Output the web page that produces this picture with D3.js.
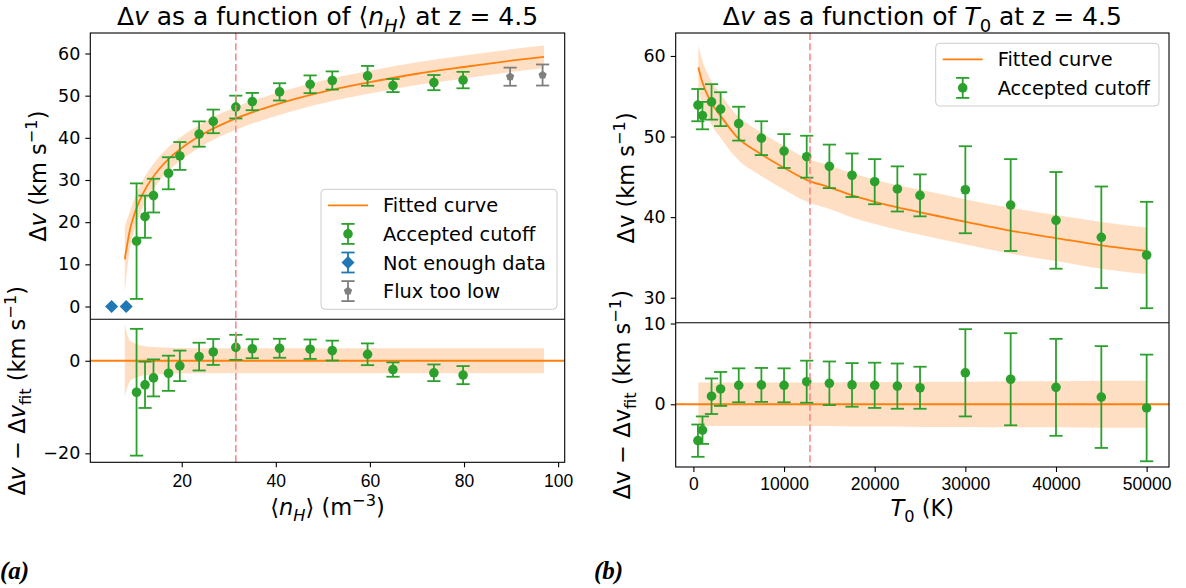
<!DOCTYPE html>
<html>
<head>
<meta charset="utf-8">
<script src="https://cdn.jsdelivr.net/npm/d3@7"></script>
<style>
body { margin: 0; background: #fff; }
svg { font-family: "DejaVu Sans", sans-serif; }
.tick text { font-size: 17.5px; fill: #000; }
.tick line { stroke: #000; stroke-width: 1.1; }
</style>
</head>
<body>
<div id="chart"></div>
<script>
// ---- panel (a): dv against <n_H> ----
var nhAccepted = [10.4, 12.2, 14.0, 17.2, 19.6, 23.7, 26.7, 31.5, 35.0, 40.8, 47.3, 52.0, 59.5, 64.9, 73.6, 79.8]
var dvAccepted = [15.5, 21.3, 26.3, 31.6, 35.7, 40.9, 43.9, 47.3, 48.6, 50.9, 52.7, 53.6, 54.7, 52.4, 53.1, 53.7]
var dvAcceptedErr = [13.7, 5.0, 4.0, 3.8, 3.3, 3.0, 2.8, 2.7, 2.05, 2.05, 2.1, 2.15, 2.35, 1.55, 1.8, 1.95]
var resAccepted = [-6.8, -5.2, -3.7, -2.7, -1.1, 0.9, 1.9, 2.9, 2.6, 2.7, 2.5, 2.2, 1.4, -1.9, -2.6, -3.1]

var nhNoData = [5.1, 8.2]
var dvNoData = [0, 0]

var nhLowFlux = [89.8, 96.7]
var dvLowFlux = [54.5, 54.9]
var dvLowFluxErr = [2.15, 2.5]

var nhFit = [7.9, 9, 10, 11, 12.5, 15, 17.5, 20, 25, 31.5, 40, 50, 60, 70, 80, 90, 97]
var dvFit = [11.2, 18.2, 22.1, 25.0, 28.3, 32.3, 35.3, 37.6, 41.2, 44.6, 47.9, 50.9, 53.2, 55.2, 56.8, 58.3, 59.2]
var dvFitBand = [7.8, 4.4, 3.8, 3.4, 3.1, 2.9, 2.8, 2.75, 2.7, 2.7, 2.7, 2.7, 2.7, 2.7, 2.7, 2.7, 2.7]
var nhCut = 31.5

var nhTicks = [20, 40, 60, 80, 100]
var dvTicksA = [0, 10, 20, 30, 40, 50, 60]
var resTicksA = [-20, 0]

// ---- panel (b): dv against T0 ----
var t0Accepted = [500, 1000, 2000, 3000, 5000, 7500, 10000, 12500, 15000, 17500, 20000, 22500, 25000, 30000, 35000, 40000, 45000, 50000]
var dvAcceptedB = [53.9, 52.6, 54.3, 53.4, 51.6, 49.8, 48.2, 47.5, 46.3, 45.2, 44.4, 43.5, 42.7, 43.4, 41.5, 39.6, 37.5, 35.3]
var dvAcceptedErrB = [2.0, 1.7, 2.2, 2.1, 2.1, 2.1, 2.1, 2.6, 2.7, 2.7, 2.8, 2.8, 2.6, 5.4, 5.7, 6.0, 6.3, 6.6]
var resAcceptedB = [-4.5, -3.2, 1.0, 1.9, 2.35, 2.4, 2.35, 2.8, 2.6, 2.4, 2.35, 2.25, 2.05, 3.9, 3.1, 2.1, 0.9, -0.45]

var t0Fit = [540, 1000, 1830, 3040, 4770, 7350, 10030, 12530, 15030, 17530, 20030, 22530, 25030, 30040, 35040, 40000, 45000, 50000]
var dvFitB = [58.6, 56.7, 54.5, 52.5, 50.0, 47.9, 46.1, 44.6, 43.7, 42.7, 41.9, 41.2, 40.6, 39.4, 38.3, 37.4, 36.5, 35.8]
var dvFitBandB = [2.7, 2.7, 2.7, 2.7, 2.7, 2.7, 2.7, 2.7, 2.7, 2.75, 2.75, 2.75, 2.8, 2.8, 2.85, 2.85, 2.9, 2.9]
var t0Cut = 12860

var t0Ticks = [0, 10000, 20000, 30000, 40000, 50000]
var dvTicksB = [30, 40, 50, 60]
var resTicksB = [0, 10]

var orange = '#ff7f0e', green = '#2ca02c', blue = '#1f77b4', grey = '#7f7f7f'
var labelSize = 22.5, titleSize = 25, legendSize = 19.4

var svg = d3.select('#chart').append('svg')
    .attr('width', 1186)
    .attr('height', 588)

// pentagon marker, like matplotlib 'p'
var symbolPentagon = {
    draw: function (ctx, size) {
        var r = Math.sqrt(size / 2.378)
        for (var i = 0; i < 5; i++) {
            var a = -Math.PI / 2 + i * 2 * Math.PI / 5
            if (i == 0) ctx.moveTo(r * Math.cos(a), r * Math.sin(a))
            else ctx.lineTo(r * Math.cos(a), r * Math.sin(a))
        }
        ctx.closePath()
    }
}

function errorbars(g, xs, ys, errs, x, y, color) {
    var cap = 6.6
    var idx = d3.range(xs.length)
    var bars = g.append('g').attr('stroke', color).attr('stroke-width', 1.8)
    bars.selectAll('.eb').data(idx).join('line')
        .attr('x1', i => x(xs[i])).attr('x2', i => x(xs[i]))
        .attr('y1', i => y(ys[i] - errs[i])).attr('y2', i => y(ys[i] + errs[i]))
    bars.selectAll('.cl').data(idx).join('line')
        .attr('x1', i => x(xs[i]) - cap).attr('x2', i => x(xs[i]) + cap)
        .attr('y1', i => y(ys[i] - errs[i])).attr('y2', i => y(ys[i] - errs[i]))
    bars.selectAll('.ch').data(idx).join('line')
        .attr('x1', i => x(xs[i]) - cap).attr('x2', i => x(xs[i]) + cap)
        .attr('y1', i => y(ys[i] + errs[i])).attr('y2', i => y(ys[i] + errs[i]))
    g.append('g').selectAll('circle').data(idx).join('circle')
        .attr('cx', i => x(xs[i])).attr('cy', i => y(ys[i]))
        .attr('r', 4.8).attr('fill', color)
}

function band(g, xs, ys, half, x, y, resid) {
    var pts = xs.map((v, i) => ({x: v, y: resid ? 0 : ys[i], h: half[i]}))
    var area = d3.area().x(d => x(d.x)).y0(d => y(d.y - d.h)).y1(d => y(d.y + d.h))
        .curve(d3.curveMonotoneX)
    g.append('path').datum(pts).attr('d', area).attr('fill', orange).attr('fill-opacity', 0.25)
}

function fitLine(g, xs, ys, x, y) {
    var line = d3.line().x((d, i) => x(xs[i])).y(d => y(d)).curve(d3.curveMonotoneX)
    g.append('path').datum(ys).attr('d', line)
        .attr('fill', 'none').attr('stroke', orange).attr('stroke-width', 1.8)
}

function yAxis(g, y, x0, ticks) {
    g.append('g').attr('transform', 'translate(' + x0 + ',0)')
        .call(d3.axisLeft(y).tickValues(ticks).tickSize(5).tickPadding(5).tickFormat(d3.format('d')))
        .call(a => a.select('.domain').remove())
        .selectAll('text').attr('font-family', 'DejaVu Sans')
}

function frame(g, p) {
    g.append('rect').attr('x', p.x0).attr('y', p.top)
        .attr('width', p.x1 - p.x0).attr('height', p.bottom - p.top)
        .attr('fill', 'none').attr('stroke', '#000').attr('stroke-width', 1.1)
    g.append('line').attr('x1', p.x0).attr('x2', p.x1).attr('y1', p.mid).attr('y2', p.mid)
        .attr('stroke', '#000').attr('stroke-width', 1.1)
}

function cutLine(g, px, p) {
    g.append('line').attr('x1', px).attr('x2', px).attr('y1', p.top).attr('y2', p.bottom)
        .attr('stroke', '#ff8080').attr('stroke-width', 1.5).attr('stroke-dasharray', '7,3.3')
}

// rich text helper: parts = [[text, style]] ; style: i = italic, sub, sup
function richText(t, parts, size) {
    var shift = 0
    parts.forEach(function (p) {
        var s = t.append('tspan').text(p[0])
        var st = p[1] || ''
        if (st.indexOf('i') >= 0) s.attr('font-style', 'italic')
        var target = 0
        if (st.indexOf('sub') >= 0) { target = 0.28 * size; s.attr('font-size', '0.72em') }
        if (st.indexOf('sup') >= 0) { target = -0.4 * size; s.attr('font-size', '0.72em') }
        if (target != shift) { s.attr('dy', target - shift); shift = target }
    })
}

function yLabel(g, x, y, parts) {
    var t = g.append('text').attr('transform', 'translate(' + x + ',' + y + ') rotate(-90)')
        .attr('text-anchor', 'middle').attr('font-size', labelSize)
    richText(t, parts, labelSize)
}

function legendHandle(g, cx, cy, color, kind) {
    var cap = 6.6
    g.append('line').attr('x1', cx).attr('x2', cx).attr('y1', cy - 10).attr('y2', cy + 10)
        .attr('stroke', color).attr('stroke-width', 1.8)
    g.append('line').attr('x1', cx - cap).attr('x2', cx + cap).attr('y1', cy - 10).attr('y2', cy - 10)
        .attr('stroke', color).attr('stroke-width', 1.8)
    g.append('line').attr('x1', cx - cap).attr('x2', cx + cap).attr('y1', cy + 10).attr('y2', cy + 10)
        .attr('stroke', color).attr('stroke-width', 1.8)
    if (kind == 'circle') g.append('circle').attr('cx', cx).attr('cy', cy).attr('r', 4.8).attr('fill', color)
    if (kind == 'diamond') g.append('path').attr('d', d3.symbol(d3.symbolSquare, 85)())
        .attr('transform', 'translate(' + cx + ',' + cy + ') rotate(45)').attr('fill', color)
    if (kind == 'pentagon') g.append('path').attr('d', d3.symbol(symbolPentagon, 45)())
        .attr('transform', 'translate(' + cx + ',' + cy + ')').attr('fill', color)
}

function legend(g, box, rows) {
    g.append('rect').attr('x', box.x).attr('y', box.y).attr('width', box.w).attr('height', box.h)
        .attr('rx', 4).attr('fill', '#fff').attr('fill-opacity', 0.8)
        .attr('stroke', '#cccccc').attr('stroke-width', 1)
    rows.forEach(function (r, i) {
        var cy = box.y + 16 + i * 28.6
        if (r.kind == 'line') {
            g.append('line').attr('x1', box.x + 7).attr('x2', box.x + 47).attr('y1', cy).attr('y2', cy)
                .attr('stroke', orange).attr('stroke-width', 1.8)
        } else {
            legendHandle(g, box.x + 27, cy, r.color, r.kind)
        }
        g.append('text').attr('x', box.x + 62).attr('y', cy + 7).attr('font-size', legendSize).text(r.label)
    })
}

// ================= panel (a) =================
var pA = {x0: 90.3, x1: 564.7, top: 33, mid: 319.3, bottom: 462.3}
var xA = d3.scaleLinear().domain([0.57, 101.4]).range([pA.x0, pA.x1])
var yA = d3.scaleLinear().domain([-3.03, 64.86]).range([pA.mid, pA.top])
var rA = d3.scaleLinear().domain([-21.94, 8.96]).range([pA.bottom, pA.mid])

var gA = svg.append('g')
band(gA, nhFit, dvFit, dvFitBand, xA, yA, false)
fitLine(gA, nhFit, dvFit, xA, yA)
errorbars(gA, nhAccepted, dvAccepted, dvAcceptedErr, xA, yA, green)
gA.append('g').selectAll('path').data(nhNoData).join('path')
    .attr('d', d3.symbol(d3.symbolSquare, 85)())
    .attr('transform', (d, i) => 'translate(' + xA(d) + ',' + yA(dvNoData[i]) + ') rotate(45)')
    .attr('fill', blue)
var gLow = gA.append('g')
gLow.selectAll('.lf').data(d3.range(nhLowFlux.length)).join('line')
    .attr('x1', i => xA(nhLowFlux[i])).attr('x2', i => xA(nhLowFlux[i]))
    .attr('y1', i => yA(dvLowFlux[i] - dvLowFluxErr[i])).attr('y2', i => yA(dvLowFlux[i] + dvLowFluxErr[i]))
    .attr('stroke', grey).attr('stroke-width', 1.8)
;[-1, 1].forEach(function (sgn) {
    gLow.selectAll('.lfc' + sgn).data(d3.range(nhLowFlux.length)).join('line')
        .attr('x1', i => xA(nhLowFlux[i]) - 6.6).attr('x2', i => xA(nhLowFlux[i]) + 6.6)
        .attr('y1', i => yA(dvLowFlux[i] + sgn * dvLowFluxErr[i])).attr('y2', i => yA(dvLowFlux[i] + sgn * dvLowFluxErr[i]))
        .attr('stroke', grey).attr('stroke-width', 1.8)
})
gLow.selectAll('path').data(nhLowFlux).join('path')
    .attr('d', d3.symbol(symbolPentagon, 45)())
    .attr('transform', (d, i) => 'translate(' + xA(d) + ',' + yA(dvLowFlux[i]) + ')')
    .attr('fill', grey)

// residuals (a)
band(gA, nhFit, dvFit, dvFitBand, xA, rA, true)
gA.append('line').attr('x1', pA.x0).attr('x2', pA.x1).attr('y1', rA(0)).attr('y2', rA(0))
    .attr('stroke', orange).attr('stroke-width', 2)
errorbars(gA, nhAccepted, resAccepted, dvAcceptedErr, xA, rA, green)

cutLine(gA, xA(nhCut), pA)
frame(gA, pA)
yAxis(gA, yA, pA.x0, dvTicksA)
yAxis(gA, rA, pA.x0, resTicksA)
gA.append('g').attr('transform', 'translate(0,' + pA.bottom + ')')
    .call(d3.axisBottom(xA).tickValues(nhTicks).tickSize(5).tickPadding(7))
    .call(a => a.select('.domain').remove())

legend(gA, {x: 321, y: 189.3, w: 236, h: 120}, [
    {kind: 'line', label: 'Fitted curve'},
    {kind: 'circle', color: green, label: 'Accepted cutoff'},
    {kind: 'diamond', color: blue, label: 'Not enough data'},
    {kind: 'pentagon', color: grey, label: 'Flux too low'}
])

var tA = gA.append('text').attr('x', (pA.x0 + pA.x1) / 2).attr('y', 25)
    .attr('text-anchor', 'middle').attr('font-size', titleSize)
richText(tA, [['Δ'], ['v', 'i'], [' as a function of ⟨'], ['n', 'i'], ['H', 'i sub'], ['⟩ at z = 4.5']], titleSize)

var xlA = gA.append('text').attr('x', (pA.x0 + pA.x1) / 2).attr('y', 515)
    .attr('text-anchor', 'middle').attr('font-size', labelSize)
richText(xlA, [['⟨'], ['n', 'i'], ['H', 'i sub'], ['⟩ (m'], ['−3', 'sup'], [')']], labelSize)

yLabel(gA, 46, (pA.top + pA.mid) / 2, [['Δ'], ['v', 'i'], [' (km s'], ['−1', 'sup'], [')']])
yLabel(gA, 25, (pA.mid + pA.bottom) / 2, [['Δ'], ['v', 'i'], [' − Δ'], ['v', 'i'], ['fit', 'sub'], [' (km s'], ['−1', 'sup'], [')']])

// ================= panel (b) =================
var pB = {x0: 675.7, x1: 1169, top: 33, mid: 322.7, bottom: 467}
var xB = d3.scaleLinear().domain([-1953, 52466]).range([pB.x0, pB.x1])
var yB = d3.scaleLinear().domain([26.9, 62.85]).range([pB.mid, pB.top])
var rB = d3.scaleLinear().domain([-7.76, 10.1]).range([pB.bottom, pB.mid])

var gB = svg.append('g')
band(gB, t0Fit, dvFitB, dvFitBandB, xB, yB, false)
fitLine(gB, t0Fit, dvFitB, xB, yB)
errorbars(gB, t0Accepted, dvAcceptedB, dvAcceptedErrB, xB, yB, green)

band(gB, t0Fit, dvFitB, dvFitBandB, xB, rB, true)
gB.append('line').attr('x1', pB.x0).attr('x2', pB.x1).attr('y1', rB(0)).attr('y2', rB(0))
    .attr('stroke', orange).attr('stroke-width', 2)
errorbars(gB, t0Accepted, resAcceptedB, dvAcceptedErrB, xB, rB, green)

cutLine(gB, xB(t0Cut), pB)
frame(gB, pB)
yAxis(gB, yB, pB.x0, dvTicksB)
yAxis(gB, rB, pB.x0, resTicksB)
gB.append('g').attr('transform', 'translate(0,' + pB.bottom + ')')
    .call(d3.axisBottom(xB).tickValues(t0Ticks).tickSize(5).tickPadding(6).tickFormat(d3.format('d')))
    .call(a => a.select('.domain').remove())

legend(gB, {x: 935.7, y: 43.3, w: 223.3, h: 62.7}, [
    {kind: 'line', label: 'Fitted curve'},
    {kind: 'circle', color: green, label: 'Accepted cutoff'}
])

var tB = gB.append('text').attr('x', (pB.x0 + pB.x1) / 2).attr('y', 25)
    .attr('text-anchor', 'middle').attr('font-size', titleSize)
richText(tB, [['Δ'], ['v', 'i'], [' as a function of '], ['T', 'i'], ['0', 'sub'], [' at z = 4.5']], titleSize)

var xlB = gB.append('text').attr('x', (pB.x0 + pB.x1) / 2).attr('y', 516)
    .attr('text-anchor', 'middle').attr('font-size', labelSize)
richText(xlB, [['T', 'i'], ['0', 'sub'], [' (K)']], labelSize)

yLabel(gB, 634, (pB.top + pB.mid) / 2, [['Δv (km s'], ['−1', 'sup'], [')']])
yLabel(gB, 630, (pB.mid + pB.bottom) / 2, [['Δv − Δv'], ['fit', 'sub'], [' (km s'], ['−1', 'sup'], [')']])

// sub-figure tags
svg.append('text').attr('x', 0).attr('y', 579).attr('font-family', 'Liberation Serif')
    .attr('font-weight', 'bold').attr('font-style', 'italic').attr('font-size', 25).text('(a)')
svg.append('text').attr('x', 594).attr('y', 579).attr('font-family', 'Liberation Serif')
    .attr('font-weight', 'bold').attr('font-style', 'italic').attr('font-size', 25).text('(b)')
</script>
</body>
</html>
